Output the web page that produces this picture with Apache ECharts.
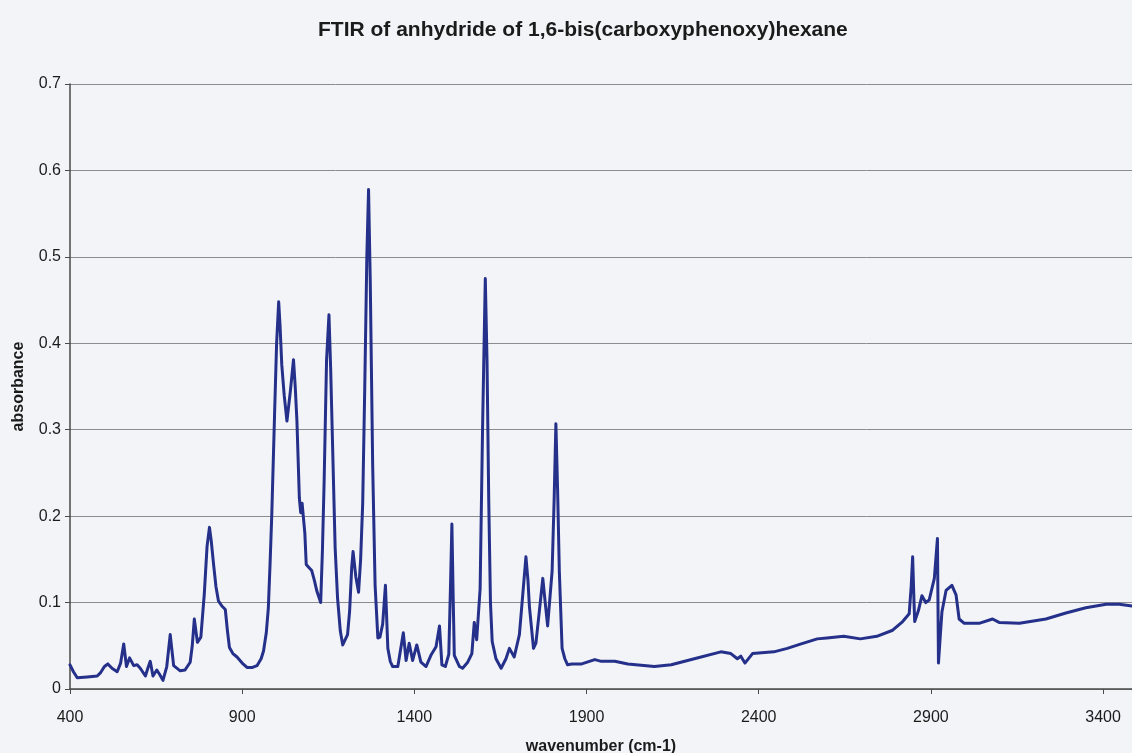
<!DOCTYPE html>
<html>
<head>
<meta charset="utf-8">
<title>FTIR spectrum</title>
<script src="https://cdn.jsdelivr.net/npm/echarts@6/dist/echarts.min.js"></script>
<style>
  html, body { margin: 0; padding: 0; background: #f3f4f7; }
  #chart { width: 1132px; height: 753px; }
</style>
</head>
<body>
<div id="chart"></div>
<script>
// FTIR spectrum of the anhydride of 1,6-bis(carboxyphenoxy)hexane
const chartTitle = 'FTIR of anhydride of 1,6-bis(carboxyphenoxy)hexane';
const xAxisTitle = 'wavenumber (cm-1)';
const yAxisTitle = 'absorbance';

// wavenumber (cm-1)
const wavenumbers = [
  400, 410, 421, 450, 479, 489, 500, 510, 522, 537, 547, 556, 564, 573, 585, 595, 604, 619, 626, 633,
  641, 652, 660, 670, 681, 691, 701, 720, 734, 749, 755, 761, 770, 780, 790, 798, 805, 810, 817, 824,
  831, 841, 851, 857, 863, 873, 885, 900, 914, 930, 943, 955, 962, 970, 976, 981, 986, 994, 1000, 1006,
  1010, 1015, 1022, 1030, 1040, 1049, 1054, 1059, 1066, 1070, 1074, 1078, 1082, 1086, 1095, 1102, 1110, 1117, 1128, 1133,
  1138, 1145, 1152, 1157, 1161, 1170, 1177, 1185, 1192, 1196, 1206, 1212, 1218, 1222, 1230, 1238, 1244, 1250, 1256, 1262,
  1267, 1272, 1279, 1286, 1294, 1300, 1308, 1316, 1323, 1330, 1337, 1352, 1368, 1376, 1385, 1395, 1407, 1419, 1434, 1448,
  1463, 1473, 1480, 1490, 1500, 1505, 1509, 1513, 1516, 1531, 1540, 1555, 1567, 1574, 1581, 1591, 1598, 1606, 1611, 1616,
  1621, 1626, 1637, 1652, 1666, 1676, 1690, 1705, 1715, 1724, 1730, 1734, 1746, 1753, 1763, 1773, 1780, 1787, 1800, 1806,
  1811, 1816, 1821, 1829, 1837, 1845, 1857, 1886, 1924, 1943, 1982, 2020, 2097, 2146, 2213, 2290, 2319, 2338, 2348, 2360,
  2382, 2444, 2483, 2521, 2570, 2598, 2647, 2695, 2743, 2789, 2818, 2837, 2843, 2847, 2851, 2853, 2864, 2874, 2885, 2895,
  2910, 2919, 2922, 2927, 2932, 2944, 2961, 2973, 2982, 2997, 3040, 3079, 3098, 3157, 3234, 3292, 3350, 3409, 3447, 3484
];

// absorbance at each wavenumber
const absorbance = [
  0.028, 0.020, 0.013, 0.014, 0.015, 0.019, 0.026, 0.029, 0.024, 0.020, 0.030, 0.052, 0.026, 0.036, 0.027, 0.028, 0.024, 0.015, 0.024, 0.032,
  0.015, 0.022, 0.017, 0.010, 0.026, 0.063, 0.027, 0.021, 0.022, 0.031, 0.050, 0.081, 0.054, 0.060, 0.110, 0.165, 0.187, 0.172, 0.144, 0.118,
  0.102, 0.096, 0.092, 0.068, 0.048, 0.041, 0.037, 0.030, 0.025, 0.025, 0.027, 0.035, 0.044, 0.065, 0.094, 0.145, 0.202, 0.317, 0.400, 0.448,
  0.420, 0.375, 0.340, 0.310, 0.345, 0.381, 0.350, 0.310, 0.221, 0.204, 0.215, 0.217, 0.180, 0.144, 0.140, 0.137, 0.125, 0.113, 0.100, 0.160,
  0.240, 0.380, 0.433, 0.370, 0.306, 0.163, 0.105, 0.067, 0.051, 0.050, 0.063, 0.090, 0.140, 0.159, 0.130, 0.112, 0.150, 0.215, 0.350, 0.500,
  0.578, 0.470, 0.258, 0.120, 0.059, 0.060, 0.075, 0.120, 0.047, 0.032, 0.026, 0.026, 0.065, 0.033, 0.053, 0.033, 0.051, 0.031, 0.026, 0.039,
  0.049, 0.073, 0.028, 0.026, 0.040, 0.120, 0.191, 0.100, 0.039, 0.026, 0.024, 0.031, 0.041, 0.077, 0.057, 0.116, 0.300, 0.475, 0.380, 0.218,
  0.100, 0.055, 0.035, 0.024, 0.035, 0.047, 0.037, 0.063, 0.110, 0.153, 0.125, 0.096, 0.047, 0.053, 0.090, 0.128, 0.100, 0.073, 0.136, 0.220,
  0.307, 0.230, 0.136, 0.047, 0.035, 0.028, 0.029, 0.029, 0.034, 0.032, 0.032, 0.029, 0.026, 0.028, 0.035, 0.043, 0.041, 0.035, 0.038, 0.030,
  0.041, 0.043, 0.047, 0.052, 0.058, 0.059, 0.061, 0.058, 0.061, 0.068, 0.078, 0.087, 0.120, 0.153, 0.100, 0.078, 0.091, 0.108, 0.100, 0.103,
  0.128, 0.174, 0.030, 0.060, 0.089, 0.114, 0.120, 0.109, 0.081, 0.076, 0.076, 0.081, 0.077, 0.076, 0.081, 0.088, 0.094, 0.098, 0.098, 0.096
];

// axis ranges and tick steps
const xMin = 400, xMax = 3484, xStep = 500;
const yMin = 0, yMax = 0.7, yStep = 0.1;

const spectrum = wavenumbers.map((w, i) => [w, absorbance[i]]);

const textColor = '#1b1b1b';
const labelFont = 'Liberation Sans, Arial, sans-serif';

const chart = echarts.init(document.getElementById('chart'), null, { renderer: 'canvas' });
chart.setOption({
  backgroundColor: '#f3f4f7',
  animation: false,
  title: {
    text: chartTitle,
    left: 313,
    top: 15,
    textStyle: {
      fontFamily: 'Liberation Sans, Arial, sans-serif',
      fontWeight: 'bold',
      fontSize: 21,
      color: textColor
    }
  },
  grid: { left: 70, right: 0, top: 84, bottom: 64, containLabel: false, outerBoundsMode: 'none' },
  xAxis: {
    type: 'value',
    min: xMin,
    max: xMax,
    interval: xStep,
    name: xAxisTitle,
    nameLocation: 'middle',
    nameGap: 50,
    nameTextStyle: { fontFamily: labelFont, fontWeight: 'bold', fontSize: 16, color: textColor },
    axisLine: { show: true, onZero: false, lineStyle: { color: '#4a4a4a', width: 1.5 } },
    axisTick: { show: true, inside: false, length: 5, lineStyle: { color: '#4a4a4a' } },
    axisLabel: {
      showMaxLabel: false,
      margin: 21,
      fontFamily: labelFont,
      fontSize: 16,
      color: textColor,
      formatter: v => String(v)
    },
    splitLine: { show: false }
  },
  yAxis: {
    type: 'value',
    min: yMin,
    max: yMax,
    interval: yStep,
    name: yAxisTitle,
    nameLocation: 'middle',
    nameRotate: 90,
    nameGap: 43,
    nameTextStyle: { fontFamily: labelFont, fontWeight: 'bold', fontSize: 16, color: textColor },
    axisLine: { show: true, lineStyle: { color: '#4a4a4a', width: 1.5 } },
    axisTick: { show: true, inside: false, length: 5, lineStyle: { color: '#4a4a4a' } },
    axisLabel: {
      margin: 9,
      fontFamily: labelFont,
      fontSize: 16,
      color: textColor,
      formatter: v => (v === 0 ? '0' : v.toFixed(1))
    },
    splitLine: { show: true, lineStyle: { color: '#8c8c8c', width: 1 } }
  },
  series: [{
    type: 'line',
    data: spectrum,
    showSymbol: false,
    smooth: false,
    clip: true,
    lineStyle: { color: '#24308a', width: 3, join: 'round', cap: 'round' }
  }]
});
</script>
</body>
</html>
